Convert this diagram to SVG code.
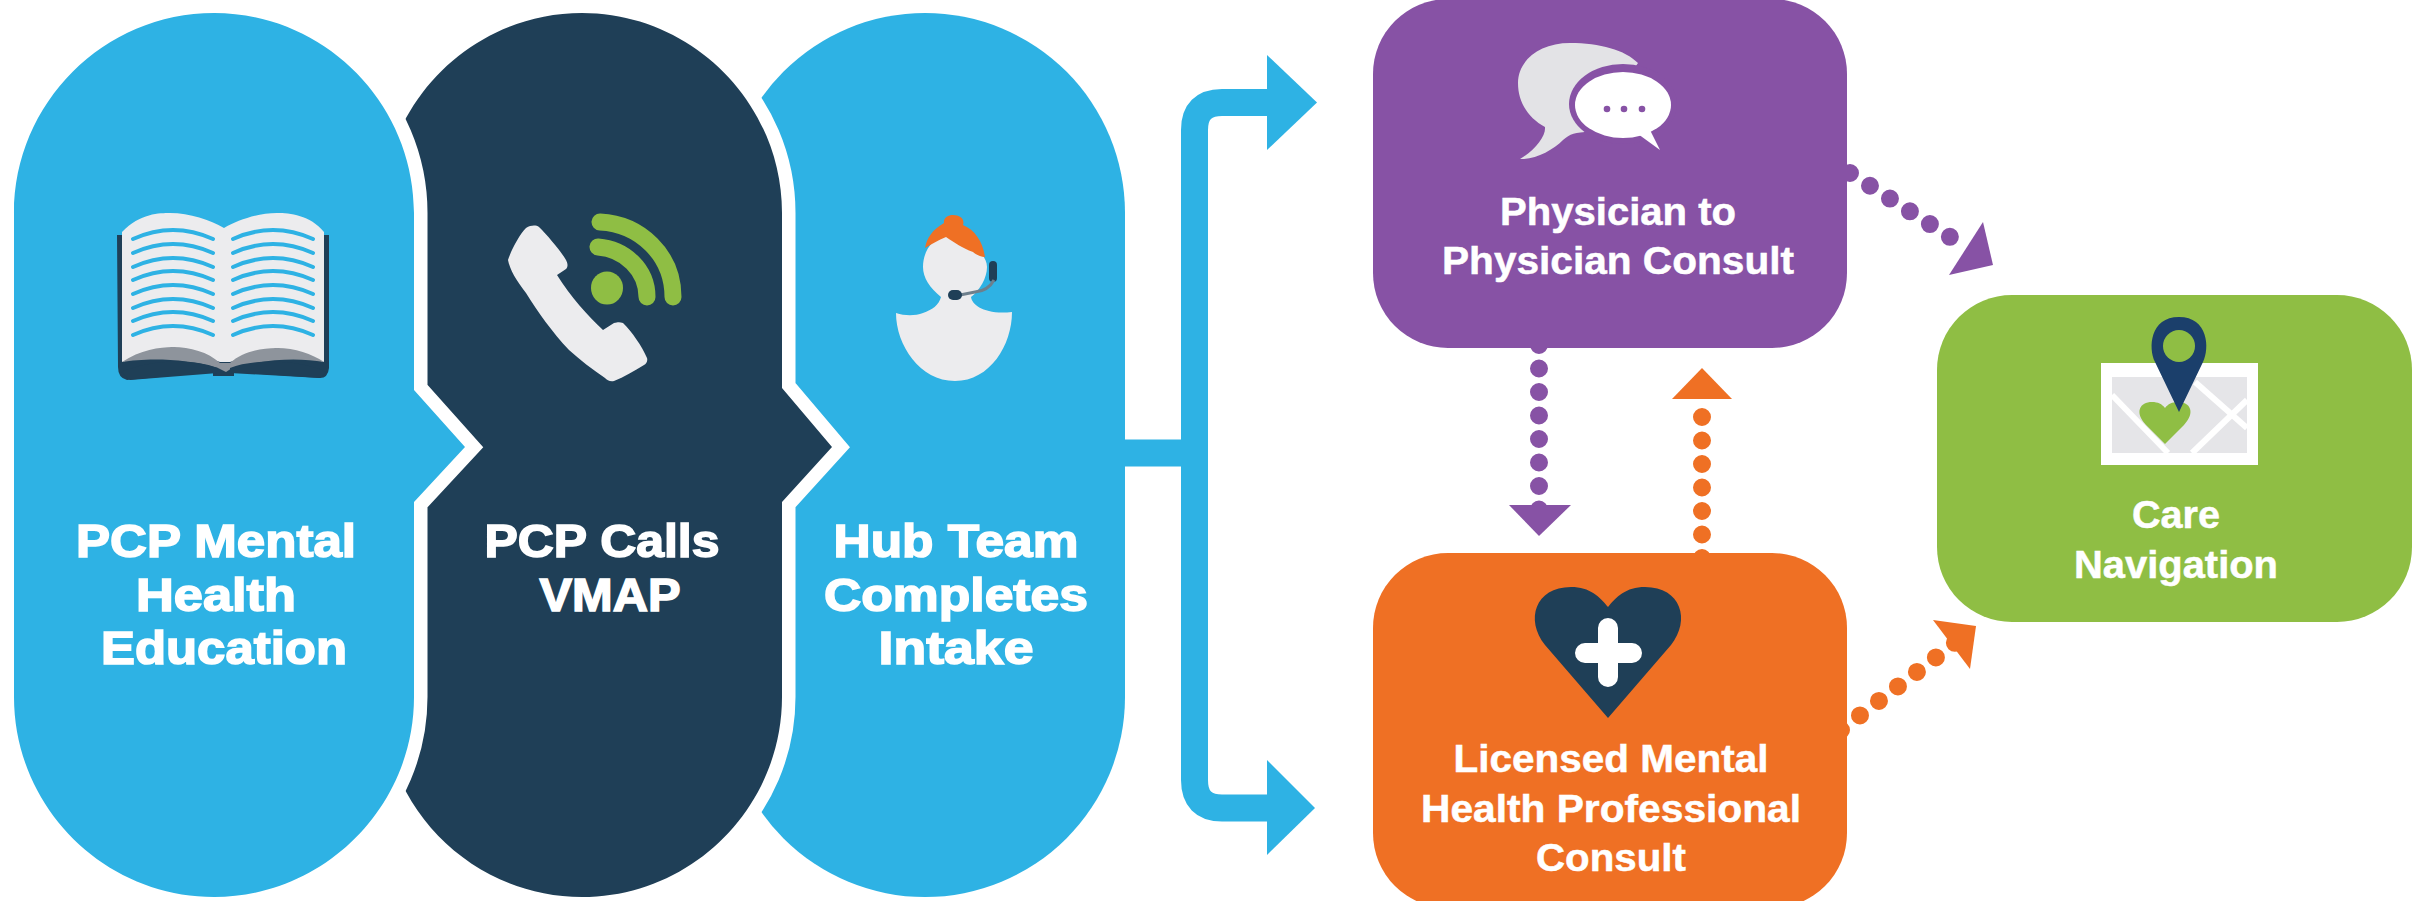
<svg xmlns="http://www.w3.org/2000/svg" width="2433" height="901" viewBox="0 0 2433 901">
<style>
text{font-family:"Liberation Sans",Arial,sans-serif;font-weight:700;fill:#fff;text-anchor:middle}
.big{font-size:47px;stroke:#fff;stroke-width:1.6px}
.mid{font-size:39px;stroke:#fff;stroke-width:.5px}
.wire{fill:none;stroke:#2eb2e4;stroke-width:27}
.dp{fill:none;stroke:#8752a5;stroke-width:18;stroke-linecap:round}
.do{fill:none;stroke:#ef7024;stroke-width:18;stroke-linecap:round}
.line{fill:none;stroke:#2eb2e4;stroke-width:4;stroke-linecap:round}
.page{fill:#ececee}
.pill{stroke:#fff;stroke-width:27;stroke-linejoin:miter;stroke-miterlimit:10;paint-order:stroke}
</style>
<rect width="2433" height="901" fill="#fff"/>
<g id="connectors">
<path class="wire" d="M1120 453H1194.500M1194.500 453V130Q1194.500 102.500 1222 102.500H1275M1194.500 453V780Q1194.500 808 1222 808H1275"/>
<polygon points="1267,55 1317,102.500 1267,150" fill="#2eb2e4"/>
<polygon points="1267,760 1315,808 1267,855" fill="#2eb2e4"/>
<path class="dp" stroke-dasharray="0 23.5" d="M1539 345V512"/>
<polygon points="1509,505 1571,505 1539,536" fill="#8752a5"/>
<path class="do" stroke-dasharray="0 23.5" d="M1702 558V394"/>
<polygon points="1672,399 1732,399 1702,368" fill="#ef7024"/>
<path class="dp" stroke-dasharray="0 23.7" d="M1850 173L1969 249"/>
<polygon points="1983,222 1993,265 1949,275" fill="#8752a5"/>
<path class="do" stroke-dasharray="0 23.9" d="M1841 730L1956 642"/>
<polygon points="1933,620 1976,626 1970,669" fill="#ef7024"/>
</g>
<g id="hub-team">
<rect x="725" y="13" width="400" height="884" rx="200" fill="#2eb2e4"/>
<path class="page" d="M896 313C905 316 915 316 923 313C932 310 939 305 941 297C930 288 923 278 923 267C923 252 932 238 944 237C960 237 987 250 987 267C987 278 980 290 971 297C972 305 985 315 1012 312C1012 345 990 381 955 381C920 381 896 345 896 313Z"/>
<path d="M925 248C927 238 932 230 944 223C943 218 948 215 953 215C960 215 965 219 963 225C975 230 983 242 985 257C980 257 975 254 973 252C962 248 955 243 946 237C938 240 932 244 925 248Z" fill="#ef7024"/>
<rect x="989" y="261" width="8" height="21" rx="4" fill="#1f3f57"/>
<path d="M994 280Q988 291 975 292L960 295" fill="none" stroke="#6d7f8c" stroke-width="3"/>
<rect x="948" y="290" width="14" height="10" rx="5" fill="#1f3f57"/>
<text class="big" x="956" y="557" textLength="245" lengthAdjust="spacingAndGlyphs">Hub Team</text>
<text class="big" x="956" y="611" textLength="264" lengthAdjust="spacingAndGlyphs">Completes</text>
<text class="big" x="956" y="664" textLength="155" lengthAdjust="spacingAndGlyphs">Intake</text>
</g>
<g id="pcp-calls">
<path class="pill" d="M582 13C692 13 782 103 782 213V388L832 447L782 502V697C782 807 692 897 582 897C472 897 382 807 382 697V213C382 103 472 13 582 13Z" fill="#1f3f57"/>
<path class="page" d="M508 260C512 248 520 234 526 228C531 225 536 225 539 227C548 236 560 250 566 260C568 264 568 267 566 269L557 275C570 296 588 316 603 330L614 323C618 322 620 322 623 323C632 332 642 346 647 358C648 361 646 364 644 365C634 371 624 377 614 381C610 382 607 380 605 378C592 369 580 360 569 350C552 332 538 312 526 293C516 280 510 270 508 260Z"/>
<ellipse cx="607" cy="288" rx="16" ry="16.500" fill="#8fbe44"/>
<path d="M598 247C625 249 647 270 647 297" fill="none" stroke="#8fbe44" stroke-width="17" stroke-linecap="round"/>
<path d="M600 222C640 224 673 255 673 297" fill="none" stroke="#8fbe44" stroke-width="17" stroke-linecap="round"/>
<text class="big" x="602" y="557" textLength="235" lengthAdjust="spacingAndGlyphs">PCP Calls</text>
<text class="big" x="610" y="611" textLength="141" lengthAdjust="spacingAndGlyphs">VMAP</text>
</g>
<g id="pcp-education">
<path class="pill" d="M214 13C324 13 414 103 414 213V390L465 447L414 502V697C414 807 324 897 214 897C104 897 14 807 14 697V213C14 103 104 13 214 13Z" fill="#2eb2e4"/>
<path d="M117 235H329V368Q328 378 320 378L234 372V376H213V372L127 380Q118 378 118 367Z" fill="#1f3f57"/>
<path class="page" d="M122 232C140 213 160 213 170 213C190 213 210 220 224 228C238 220 258 213 277 213C290 213 310 215 324 232V362L277 348L230 362H220L173 347L122 362Z"/>
<path d="M122 362C140 350 160 347 173 347C190 347 208 352 220 363H230C242 352 260 348 277 348C295 348 312 354 324 362C300 358 270 358 232 368L226 372L218 368C185 358 145 358 122 362Z" fill="#8e949c"/>
<path d="M121 372C150 360 190 358 218 368V373L130 380ZM327 372C300 360 255 358 230 368V373L320 378Z" fill="#1f3f57"/>
<g class="line">
<path d="M133 239Q173 221 213 239M233 239Q273 221 313 239"/>
<path d="M133 253Q173 235 213 253M233 253Q273 235 313 253"/>
<path d="M133 267Q173 249 213 267M233 267Q273 249 313 267"/>
<path d="M133 280Q173 262 213 280M233 280Q273 262 313 280"/>
<path d="M133 294Q173 276 213 294M233 294Q273 276 313 294"/>
<path d="M133 308Q173 290 213 308M233 308Q273 290 313 308"/>
<path d="M133 321Q173 303 213 321M233 321Q273 303 313 321"/>
<path d="M133 335Q173 317 213 335M233 335Q273 317 313 335"/>
</g>
<text class="big" x="216" y="557" textLength="280" lengthAdjust="spacingAndGlyphs">PCP Mental</text>
<text class="big" x="216" y="611" textLength="160" lengthAdjust="spacingAndGlyphs">Health</text>
<text class="big" x="224" y="664" textLength="246" lengthAdjust="spacingAndGlyphs">Education</text>
</g>
<g id="physician-consult">
<rect x="1373" y="-1" width="474" height="349" rx="75" fill="#8752a5"/>
<path fill="#e3e3e6" d="M1638 63C1625 50 1600 43 1570 43C1540 43 1518 60 1518 83C1518 102 1528 118 1545 127C1546 136 1535 150 1520 159C1535 160 1553 150 1563 140C1570 134 1575 132 1590 132Z"/>
<ellipse cx="1623" cy="104" rx="54" ry="40" fill="#8752a5"/>
<ellipse cx="1623" cy="105" rx="48" ry="33" fill="#fff"/>
<path d="M1638 134L1660 150L1650 130Z" fill="#fff"/>
<circle cx="1607" cy="109" r="3.300" fill="#8752a5"/><circle cx="1624" cy="109" r="3.300" fill="#8752a5"/><circle cx="1642" cy="109" r="3.300" fill="#8752a5"/>
<text class="mid" x="1618" y="225" textLength="236" lengthAdjust="spacingAndGlyphs">Physician to</text>
<text class="mid" x="1618" y="274" textLength="352" lengthAdjust="spacingAndGlyphs">Physician Consult</text>
</g>
<g id="mental-health-consult">
<rect x="1373" y="553" width="474" height="355" rx="75" fill="#ef7024"/>
<path d="M1608 718L1545 645C1525 620 1535 587 1571 587C1590 587 1600 597 1608 607C1616 597 1626 587 1645 587C1681 587 1691 620 1671 645Z" fill="#1f3f57"/>
<path d="M1608 628V677M1585 653H1632" stroke="#fff" stroke-width="20" stroke-linecap="round" fill="none"/>
<text class="mid" x="1611" y="772" textLength="315" lengthAdjust="spacingAndGlyphs">Licensed Mental</text>
<text class="mid" x="1611" y="822" textLength="380" lengthAdjust="spacingAndGlyphs">Health Professional</text>
<text class="mid" x="1611" y="871" textLength="150" lengthAdjust="spacingAndGlyphs">Consult</text>
</g>
<g id="care-navigation">
<rect x="1937" y="295" width="475" height="327" rx="75" fill="#8fbe44"/>
<rect x="2101" y="363" width="157" height="102" fill="#fff"/>
<rect x="2112" y="377" width="135" height="76" fill="#e5e5e8"/>
<path d="M2112 395L2168 453M2195 382L2247 428M2247 400L2192 453" stroke="#fff" stroke-width="6" fill="none"/>
<path d="M2165 444L2146 425C2134 412 2140 402 2152 402C2158 402 2162 404 2165 408C2168 404 2172 402 2178 402C2190 402 2196 412 2184 425Z" fill="#8fbe44"/>
<path d="M2179 412L2155 362C2148 348 2150 317 2179 317C2208 317 2210 348 2203 362Z" fill="#1b3f6b"/>
<circle cx="2179" cy="346" r="16" fill="#8fbe44"/>
<text class="mid" x="2176" y="528" textLength="88" lengthAdjust="spacingAndGlyphs">Care</text>
<text class="mid" x="2176" y="578" textLength="204" lengthAdjust="spacingAndGlyphs">Navigation</text>
</g>
</svg>
